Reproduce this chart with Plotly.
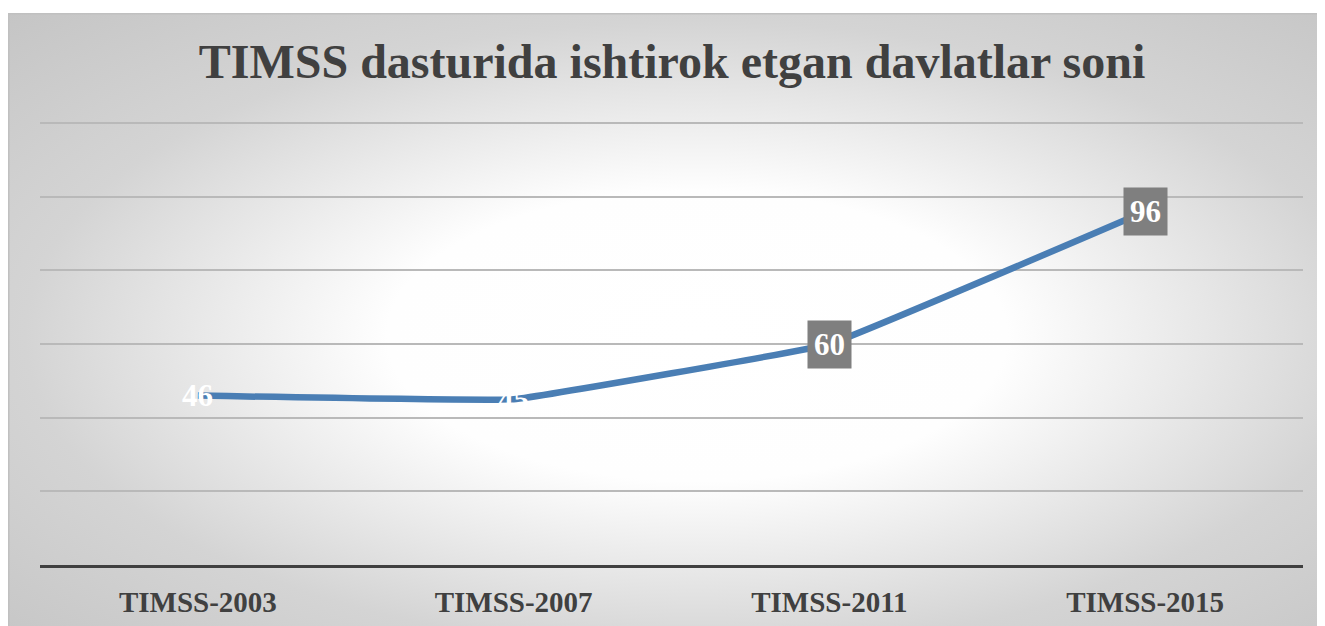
import base64
import plotly.graph_objects as go

categories = ["TIMSS-2003", "TIMSS-2007", "TIMSS-2011", "TIMSS-2015"]
values = [46, 45, 60, 96]
label_boxed = [False, False, True, True]
title_text = "TIMSS dasturida ishtirok etgan davlatlar soni"

SERIF = "Liberation Serif, Times New Roman, serif"

# figure is drawn offset by the 8px page body margin
W, H = 1325, 626
L, R, T, B = 32, 30, 114, 69
pw, ph = W - L - R, H - T - B

BG_W, BG_H = W, H - 5
svg = (
    f'<svg xmlns="http://www.w3.org/2000/svg" width="{BG_W}" height="{BG_H}" viewBox="0 0 {BG_W} {BG_H}" preserveAspectRatio="none">'
    '<defs><radialGradient id="g" cx="52%" cy="52%" r="78%" fx="52%" fy="52%">'
    '<stop offset="0" stop-color="#ffffff"/>'
    '<stop offset="0.3" stop-color="#fefefe"/>'
    '<stop offset="0.65" stop-color="#d4d4d4"/>'
    '<stop offset="1" stop-color="#c2c2c2"/>'
    '</radialGradient></defs>'
    f'<rect x="0" y="0" width="{BG_W}" height="{BG_H}" fill="url(#g)"/>'
    f'<rect x="0.75" y="0.75" width="{BG_W}" height="{BG_H}" fill="none" stroke="#c0c0c0" stroke-width="1.5"/>'
    '</svg>'
)
img_src = "data:image/svg+xml;base64," + base64.b64encode(svg.encode()).decode()

fig = go.Figure()
fig.add_trace(go.Scatter(
    x=categories, y=values, mode="lines",
    line=dict(color="#4a7eb4", width=6.5, shape="spline", smoothing=0.2),
    hoverinfo="x+y", showlegend=False,
))

for c, v, boxed in zip(categories, values, label_boxed):
    fig.add_annotation(
        x=c, y=v, xref="x", yref="y", text="<b>" + str(v) + "</b>", showarrow=False,
        font=dict(family=SERIF, size=31, color="#ffffff"),
        bgcolor="#7f7f7f" if boxed else "rgba(0,0,0,0)",
        borderpad=6, xanchor="center", yanchor="middle",
    )

fig.add_layout_image(
    source=img_src, xref="paper", yref="paper",
    x=-L / pw, y=(H - B - 5) / ph, sizex=BG_W / pw, sizey=BG_H / ph,
    xanchor="left", yanchor="top", sizing="stretch", layer="below",
)

fig.update_layout(
    width=W, height=H,
    margin=dict(l=L, r=R, t=T, b=B),
    paper_bgcolor="#ffffff",
    plot_bgcolor="rgba(0,0,0,0)",
    title=dict(
        text="<b>" + title_text + "</b>",
        font=dict(family=SERIF, size=48, color="#404040"),
        x=(664 - L) / pw, xref="paper", xanchor="center",
        y=1 - 53 / H, yanchor="middle",
    ),
    xaxis=dict(
        showgrid=False, showline=True, linecolor="#404040", linewidth=3,
        ticks="", tickfont=dict(family=SERIF, size=29, color="#404040"),
        ticklabelstandoff=9, range=[-0.5, 3.5], fixedrange=True,
        tickprefix="<b>", ticksuffix="</b>",
    ),
    yaxis=dict(
        range=[0, 120.3], dtick=20, showticklabels=False, showgrid=True,
        gridcolor="#b9b9b9", gridwidth=1.5, zeroline=False, showline=False,
        fixedrange=True,
    ),
)

fig.write_html("out.html")
